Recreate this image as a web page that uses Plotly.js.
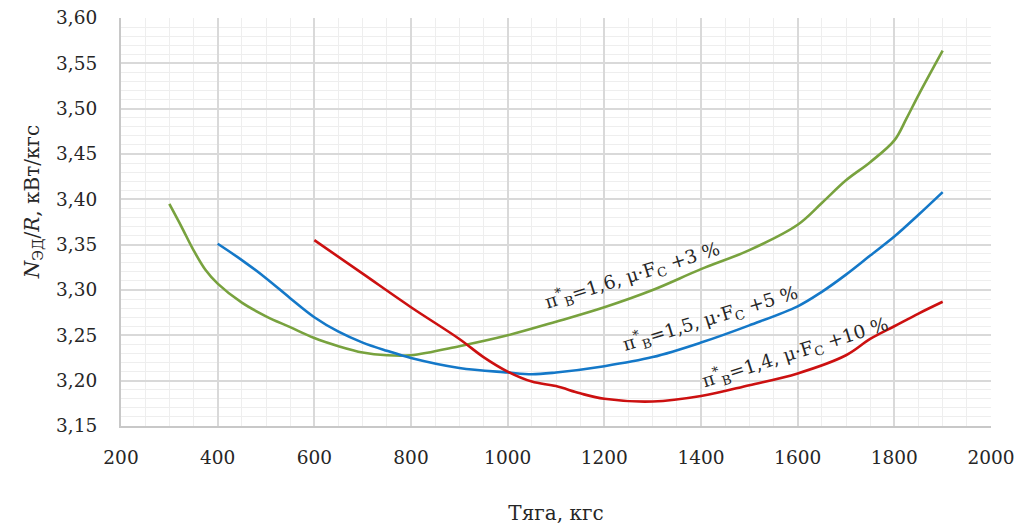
<!DOCTYPE html>
<html>
<head>
<meta charset="utf-8">
<script src="https://cdn.plot.ly/plotly-3.0.1.min.js"></script>
<style>html,body{margin:0;padding:0;background:#fff}#chart{width:1019px;height:526px}</style>
</head>
<body>
<div id="chart"></div>
<script>
// Series: π*В = 1,6 (green)
const xGreen = [300,325,350,375,400,450,500,550,600,650,700,750,800,900,1000,1100,1200,1300,1400,1500,1600,1650,1700,1750,1800,1825,1850,1900];
const yGreen = [3.395,3.370,3.344,3.322,3.307,3.286,3.271,3.259,3.247,3.238,3.231,3.228,3.228,3.238,3.250,3.265,3.281,3.300,3.323,3.344,3.372,3.396,3.421,3.441,3.465,3.489,3.515,3.564];
// Series: π*В = 1,5 (blue)
const xBlue = [400,450,500,550,600,650,700,750,800,900,1000,1050,1100,1200,1300,1400,1500,1600,1650,1700,1750,1800,1850,1900];
const yBlue = [3.351,3.333,3.313,3.291,3.270,3.254,3.242,3.233,3.225,3.214,3.209,3.207,3.209,3.216,3.226,3.242,3.261,3.282,3.298,3.317,3.338,3.359,3.383,3.408];
// Series: π*В = 1,4 (red)
const xRed = [600,700,800,900,950,1000,1050,1100,1150,1200,1300,1400,1500,1600,1700,1750,1800,1850,1900];
const yRed = [3.355,3.318,3.281,3.246,3.226,3.210,3.199,3.194,3.186,3.180,3.177,3.183,3.195,3.208,3.228,3.246,3.260,3.274,3.287];

const labelGreen = "π<sup>*</sup><sub>В</sub>=1,6, μ·F<sub>С</sub> +3 %";
const labelBlue  = "π<sup>*</sup><sub>В</sub>=1,5, μ·F<sub>С</sub> +5 %";
const labelRed   = "π<sup>*</sup><sub>В</sub>=1,4, μ·F<sub>С</sub> +10 %";

const xTitle = "Тяга, кгс";
const yTitle = "<i>N</i><sub>ЭД</sub>/<i>R</i>, кВт/кгс";

const serif = "DejaVu Serif, serif";

function line(x, y, color) {
  return {x: x, y: y, type: 'scatter', mode: 'lines',
          line: {color: color, width: 2.6, shape: 'spline', smoothing: 1},
          hoverinfo: 'skip', showlegend: false};
}

const data = [
  line(xGreen, yGreen, '#78a23e'),
  line(xBlue, yBlue, '#1478c8'),
  line(xRed, yRed, '#cc1010')
];

const layout = {
  width: 1019, height: 526,
  margin: {l: 121, r: 28, t: 18, b: 100},
  paper_bgcolor: '#ffffff', plot_bgcolor: '#ffffff',
  separators: ', ',
  showlegend: false,
  font: {family: serif, size: 18.5, color: '#262626'},
  xaxis: {
    range: [200, 2000], dtick: 200, tick0: 200,
    title: {text: xTitle, standoff: 39, font: {family: serif, size: 20, color: '#262626'}},
    automargin: false,
    showgrid: true, gridcolor: '#d9d9d9', gridwidth: 2,
    minor: {dtick: 50, showgrid: true, gridcolor: '#eeeeee', gridwidth: 1},
    showline: true, linecolor: '#c8c8c8', linewidth: 2,
    zeroline: false, ticks: '', ticklabelstandoff: 14,
    tickfont: {family: serif, size: 18.5, color: '#262626'}
  },
  yaxis: {
    range: [3.15, 3.60], dtick: 0.05, tick0: 3.15, tickformat: '.2f',
    showgrid: true, gridcolor: '#d9d9d9', gridwidth: 2,
    minor: {dtick: 0.01, showgrid: true, gridcolor: '#eeeeee', gridwidth: 1},
    showline: true, linecolor: '#c8c8c8', linewidth: 2,
    zeroline: false, ticks: '', ticklabelstandoff: 18,
    tickfont: {family: serif, size: 18.5, color: '#262626'}
  },
  annotations: [
    {xref: 'paper', yref: 'paper', x: -0.101, y: 0.549, xanchor: 'center', yanchor: 'middle',
     textangle: -90, text: yTitle, showarrow: false, font: {family: serif, size: 20, color: '#262626'}},
    {xref: 'x', yref: 'y', x: 1257, y: 3.3165, text: labelGreen, textangle: -17.5,
     showarrow: false, font: {family: serif, size: 18.5, color: '#262626'}},
    {xref: 'x', yref: 'y', x: 1418, y: 3.269, text: labelBlue, textangle: -17,
     showarrow: false, font: {family: serif, size: 18.5, color: '#262626'}},
    {xref: 'x', yref: 'y', x: 1594, y: 3.2316, text: labelRed, textangle: -17.5,
     showarrow: false, font: {family: serif, size: 18.5, color: '#262626'}}
  ]
};

Plotly.newPlot('chart', data, layout, {staticPlot: true, displayModeBar: false});
</script>
</body>
</html>
